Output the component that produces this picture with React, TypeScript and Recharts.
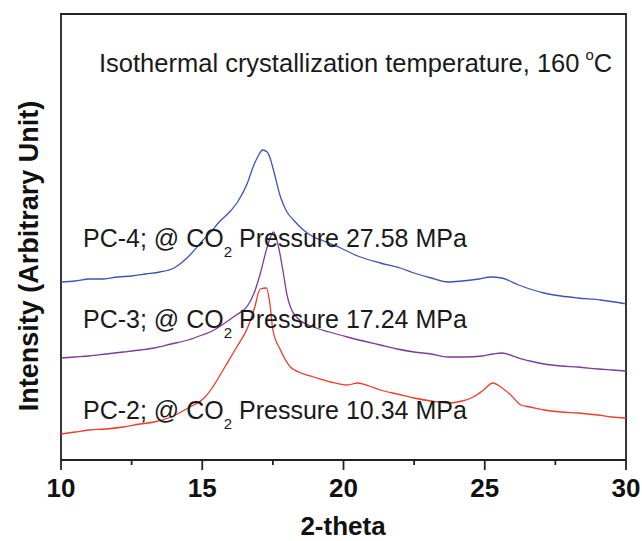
import { Line, LineChart, ReferenceArea, XAxis, YAxis } from "recharts";

// 2-theta positions and intensities (arbitrary units) for each sample
const pc4Theta = [
  10.0, 10.5, 11.0, 11.5, 12.0, 12.5, 13.0, 13.5, 14.0, 14.3, 14.6, 15.0, 15.3,
  15.6, 16.0, 16.25, 16.6, 16.8, 17.0, 17.13, 17.3, 17.4, 17.52, 17.77, 18.0,
  18.23, 18.58, 18.94, 19.3, 19.9, 20.5, 21.3, 22.0, 22.5, 23.1, 23.7, 24.2,
  24.8, 25.2, 25.6, 26.2, 26.6, 27.1, 27.7, 28.3, 29.1, 29.6, 30.0,
];
const pc4Intensity = [
  178, 179, 181, 181, 183, 184, 186, 188, 192, 198, 206, 219, 228, 238, 249,
  258, 277, 293, 305, 310, 308, 302, 290, 263, 248, 240, 230, 223, 219, 212,
  204, 197, 192, 187, 182, 178, 179, 181, 183, 182, 175, 171, 167, 164, 162,
  160, 158, 156,
];

const pc3Theta = [
  10.0, 10.5, 11.0, 11.6, 12.2, 12.8, 13.3, 13.9, 14.5, 15.0, 15.35, 15.8, 16.2,
  16.6, 16.85, 17.06, 17.3, 17.52, 17.7, 17.87, 18.0, 18.12, 18.37, 18.94, 19.5,
  20.14, 20.7, 21.3, 21.9, 22.5, 23.1, 23.7, 24.3, 24.9, 25.3, 25.6, 26.2, 26.6,
  27.1, 27.7, 28.3, 29.0, 29.5, 30.0,
];
const pc3Intensity = [
  102, 103, 104, 106, 108, 110, 112, 116, 120, 125, 129, 137, 145, 154, 168,
  187, 213, 228, 213, 187, 165, 153, 142, 133, 128, 123, 119, 115, 111, 108,
  106, 103, 103, 104, 106, 107, 102, 99, 96, 94, 93, 91, 90, 89,
];

const pc2Theta = [
  10.0, 10.5, 11.0, 11.6, 12.2, 12.8, 13.3, 13.9, 14.5, 15.1, 15.35, 15.57, 15.8,
  16.2, 16.6, 16.85, 17.05, 17.27, 17.4, 17.5, 17.77, 18.12, 18.5, 18.94, 19.54,
  20.14, 20.5, 20.9, 21.3, 21.9, 22.5, 23.1, 23.7, 24.2, 24.6, 24.96, 25.28,
  25.57, 25.92, 26.28, 26.6, 27.1, 27.7, 28.3, 29.0, 29.5, 30.0,
];
const pc2Intensity = [
  26, 28, 30, 31, 33, 36, 38, 43, 52, 63, 72, 82, 93, 112, 132, 152, 171, 172,
  155, 130, 110, 93, 87, 83, 78, 75, 77, 74, 70, 66, 62, 59, 57, 59, 63, 70, 77,
  73, 65, 55, 53, 50, 48, 47, 45, 43, 42,
];

const xTicks = [10, 12.5, 15, 17.5, 20, 22.5, 25, 27.5, 30];

const toPoints = (theta: number[], intensity: number[]) =>
  theta.map((t, i) => ({ theta: t, intensity: intensity[i] }));

const pc4 = toPoints(pc4Theta, pc4Intensity);
const pc3 = toPoints(pc3Theta, pc3Intensity);
const pc2 = toPoints(pc2Theta, pc2Intensity);

const FONT = "'Liberation Sans', Arial, sans-serif";
const FRAME = "#222";
const INK = "#111";

// major ticks get a number and a longer mark
function ThetaTick(props: any) {
  const { x, y, payload } = props;
  const major = payload.value % 5 === 0;
  return (
    <g>
      <line x1={x} x2={x} y1={y} y2={y + (major ? 10 : 5)} stroke={FRAME} strokeWidth={1.8} />
      {major && (
        <text
          x={x}
          y={y + 37}
          textAnchor="middle"
          fontSize={26}
          fontWeight="bold"
          fontFamily={FONT}
          fill={INK}
        >
          {payload.value}
        </text>
      )}
    </g>
  );
}

function SampleLabel({ y, id, pressure }: { y: number; id: string; pressure: string }) {
  return (
    <text x={83} y={y} fontSize={25} fill="#1a1a1a" fontFamily={FONT}>
      {`${id}; @ CO`}
      <tspan fontSize={15} dy={10}>2</tspan>
      <tspan dy={-10}>{` Pressure ${pressure} MPa`}</tspan>
    </text>
  );
}

export default function App() {
  return (
    <div style={{ position: "absolute", left: 0, top: 0, width: 642, height: 541, background: "#fff" }}>
      <LineChart
        width={642}
        height={541}
        margin={{ top: 14, right: 16, bottom: 0, left: 61 }}
      >
        <XAxis
          dataKey="theta"
          type="number"
          domain={[10, 30]}
          ticks={xTicks}
          allowDuplicatedCategory={false}
          height={81}
          tickSize={0}
          tickMargin={0}
          tickLine={false}
          axisLine={{ stroke: FRAME, strokeWidth: 2 }}
          tick={<ThetaTick />}
        />
        <YAxis domain={[0, 446]} hide />
        <ReferenceArea
          x1={10}
          x2={30}
          y1={0}
          y2={446}
          fill="none"
          stroke={FRAME}
          strokeWidth={1.8}
          fillOpacity={0}
        />
        <Line
          data={pc4}
          dataKey="intensity"
          type="monotone"
          stroke="#3f52b8"
          strokeWidth={1.3}
          dot={false}
          isAnimationActive={false}
        />
        <Line
          data={pc3}
          dataKey="intensity"
          type="monotone"
          stroke="#7d3b9c"
          strokeWidth={1.3}
          dot={false}
          isAnimationActive={false}
        />
        <Line
          data={pc2}
          dataKey="intensity"
          type="monotone"
          stroke="#ee3d2b"
          strokeWidth={1.3}
          dot={false}
          isAnimationActive={false}
        />
      </LineChart>
      <svg
        width={642}
        height={541}
        style={{ position: "absolute", left: 0, top: 0, pointerEvents: "none" }}
      >
        <text x={99} y={72} fontSize={25.5} fill="#1a1a1a" fontFamily={FONT}>
          Isothermal crystallization temperature, 160
          <tspan fontSize={15} dx={6} dy={-12}>o</tspan>
          <tspan dy={12}>C</tspan>
        </text>
        <SampleLabel y={247} id="PC-4" pressure="27.58" />
        <SampleLabel y={328} id="PC-3" pressure="17.24" />
        <SampleLabel y={419} id="PC-2" pressure="10.34" />
        <text
          x={343}
          y={535}
          textAnchor="middle"
          fontSize={26}
          fontWeight="bold"
          fontFamily={FONT}
          fill={INK}
        >
          2-theta
        </text>
        <text
          transform="translate(38,256) rotate(-90)"
          textAnchor="middle"
          fontSize={27}
          fontWeight="bold"
          fontFamily={FONT}
          fill={INK}
        >
          Intensity (Arbitrary Unit)
        </text>
      </svg>
    </div>
  );
}
